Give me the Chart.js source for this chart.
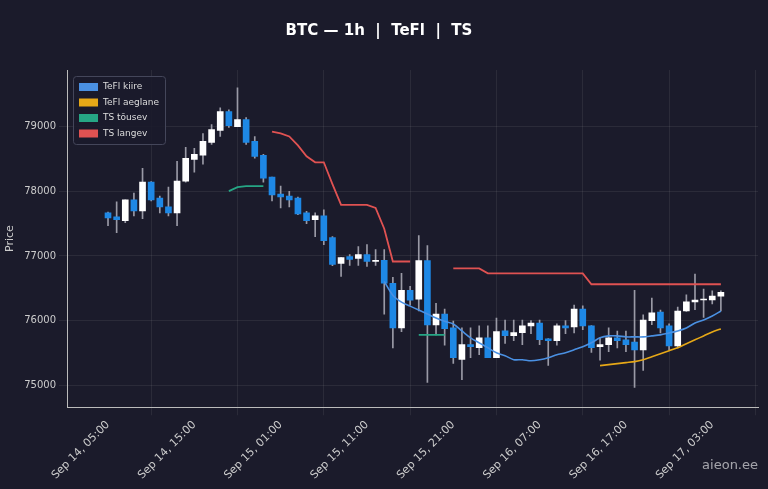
<!DOCTYPE html>
<html><head><meta charset="utf-8">
<script src="https://cdn.jsdelivr.net/npm/chart.js@4.4.1/dist/chart.umd.min.js"></script>
<style>html,body{margin:0;padding:0;background:#1b1b2b;}#wrap{width:768px;height:489px;position:relative;}</style>
</head><body><div id="wrap"><canvas id="c" width="768" height="489"></canvas></div>
<script>
const tickLabels = ["Sep 14, 05:00","Sep 14, 15:00","Sep 15, 01:00","Sep 15, 11:00","Sep 15, 21:00","Sep 16, 07:00","Sep 16, 17:00","Sep 17, 03:00"];
const opens  = [77667,77605,77544,77866,77697,78142,77896,77758,77667,78157,78494,78556,78755,78939,79230,79000,79107,78770,78556,78218,77957,77927,77896,77667,77560,77620,77283,76885,76992,76961,77023,76915,76931,76578,75890,76470,76332,76930,75935,76103,75890,75400,75630,75585,75735,75430,75845,75770,75815,75920,75965,75720,75690,75920,75905,76180,75920,75600,75630,75735,75705,75670,75550,76000,76135,75920,75610,76150,76290,76320,76320,76380];
const closes = [77590,77560,77866,77697,78142,77866,77758,77667,78157,78510,78571,78770,78954,79230,79015,79107,78755,78540,78203,77942,77912,77866,77651,77544,77620,77237,76870,76977,76946,77023,76915,76931,76578,75890,76470,76317,76930,75935,76103,75875,75430,75630,75600,75735,75430,75830,75770,75815,75920,75965,75705,75690,75920,75890,76180,75920,75585,75630,75735,75690,75630,75550,76010,76120,75890,75610,76150,76290,76320,76335,76380,76440];
const highs  = [77680,77835,77866,77973,78356,78150,77927,78065,78463,78678,78663,78893,79030,79291,79260,79598,79140,78847,78570,78220,78080,78000,77910,77690,77667,77713,77300,76980,77020,77145,77176,77100,77100,76670,76730,76530,77314,77160,76270,76180,75995,75890,75890,75920,75920,76040,76010,76010,76010,76000,76010,75725,75950,76000,76240,76230,75925,75735,75890,75840,75840,76470,76090,76350,76165,75950,76210,76400,76720,76490,76460,76460];
const lows   = [77470,77360,77513,77620,77575,77850,77667,77620,77467,78142,78295,78418,78724,78847,78985,79000,78724,78510,78142,77850,77743,77758,77640,77500,77300,77176,76850,76685,76854,76854,76838,76854,76100,75580,75830,76240,76150,75045,75780,75620,75340,75090,75430,75475,75430,75430,75650,75690,75630,75800,75630,75310,75620,75800,75810,75860,75510,75390,75520,75580,75520,74970,75230,75940,75810,75550,75580,76145,76170,76050,76260,76150];
const N = null;
const tefiKiire = [N,N,N,N,N,N,N,N,N,N,N,N,N,N,N,N,N,N,N,N,N,N,N,N,N,N,N,N,N,N,N,N,76608,76394,76287,76225,76164,76103,76041,75990,75950,75842,75735,75658,75581,75505,75459,75397,75397,75382,75397,75428,75474,75505,75551,75597,75658,75735,75765,75765,75750,75750,75750,75765,75781,75811,75842,75888,75965,76011,76072,76149];
const tefiAeglane = [N,N,N,N,N,N,N,N,N,N,N,N,N,N,N,N,N,N,N,N,N,N,N,N,N,N,N,N,N,N,N,N,N,N,N,N,N,N,N,N,N,N,N,N,N,N,N,N,N,N,N,N,N,N,N,N,N,75306,75321,75336,75352,75367,75397,75444,75490,75536,75582,75643,75704,75765,75827,75873];
const tsTousev = [N,N,N,N,N,N,N,N,N,N,N,N,N,N,78003,78065,78080,78080,78080,N,N,N,N,N,N,N,N,N,N,N,N,N,N,N,N,N,75780,75780,75780,75780,N,N,N,N,N,N,N,N,N,N,N,N,N,N,N,N,N,N,N,N,N,N,N,N,N,N,N,N,N,N,N,N];
const tsLangev = [N,N,N,N,N,N,N,N,N,N,N,N,N,N,N,N,N,N,N,78923,78893,78847,78709,78540,78448,78448,78111,77789,77789,77789,77789,77743,77421,76915,76915,76915,N,N,N,N,76808,76808,76808,76808,76731,76731,76731,76731,76731,76731,76731,76731,76731,76731,76731,76731,76563,76563,76563,76563,76563,76563,76563,76563,76563,76563,76563,76563,76563,76563,76563,76563];
const yTicks = [75000,76000,77000,78000,79000];

const idx = opens.map((_, i) => i);
const bodies = idx.map(i => ({x:i, y:[Math.min(opens[i],closes[i]), Math.max(opens[i],closes[i])+ (Math.abs(opens[i]-closes[i])<15?15:0)]}));
const bodyColors = idx.map(i => closes[i] >= opens[i] ? '#ffffff' : '#1e88e5');
const wicks = idx.map(i => ({x:i, y:[lows[i], highs[i]]}));
const line = arr => arr.map((v,i)=>({x:i,y:v}));

const legendItems = [['TeFl kiire','#4a90e2'],['TeFl aeglane','#e6a817'],['TS tõusev','#26a685'],['TS langev','#e05252']];

const bgPlugin = {id:'bg', beforeDraw(c){const ctx=c.ctx;ctx.save();ctx.fillStyle='#1b1b2b';ctx.fillRect(0,0,c.width,c.height);ctx.restore();},
 afterDraw(c){const ctx=c.ctx,a=c.chartArea;ctx.save();
  const x0=a.left+6,y0=a.top+6;ctx.fillStyle='rgba(27,27,43,0.9)';ctx.strokeStyle='#44465a';ctx.lineWidth=1;
  ctx.beginPath();ctx.roundRect(x0+0.5,y0+0.5,92,68,3);ctx.fill();ctx.stroke();
  ctx.font='9px "DejaVu Sans"';ctx.textBaseline='middle';
  legendItems.forEach((it,k)=>{const yy=y0+11+k*15.5;ctx.fillStyle=it[1];ctx.fillRect(x0+6,yy-4,19,8);ctx.fillStyle='#dddddd';ctx.fillText(it[0],x0+30,yy);});
  ctx.font='13px "DejaVu Sans"';ctx.fillStyle='rgba(255,255,255,0.6)';ctx.textAlign='right';ctx.fillText('aieon.ee',758,466);
  ctx.restore();}};

new Chart(document.getElementById('c'), {
  type:'bar',
  data:{datasets:[
    {type:'line',label:'TeFl kiire',data:line(tefiKiire),borderColor:'#4a90e2',borderWidth:1.6,pointRadius:0,tension:0.3,spanGaps:false},
    {type:'line',label:'TeFl aeglane',data:line(tefiAeglane),borderColor:'#e6a817',borderWidth:1.6,pointRadius:0,tension:0.3},
    {type:'line',label:'TS tõusev',data:line(tsTousev),borderColor:'#26a685',borderWidth:1.8,pointRadius:0},
    {type:'line',label:'TS langev',data:line(tsLangev),borderColor:'#e05252',borderWidth:1.8,pointRadius:0},
    {label:'wick',data:wicks,backgroundColor:'#9a9aa6',barThickness:1,grouped:false,order:10},
    {label:'body',data:bodies,backgroundColor:bodyColors,barThickness:6,grouped:false,order:5}
  ]},
  options:{responsive:false,animation:false,
    layout:{padding:{top:0,right:10,left:0,bottom:4}},
    plugins:{legend:{display:false},tooltip:{enabled:false},
      title:{display:true,text:'BTC — 1h  |  TeFl  |  TS',color:'#ffffff',font:{family:'DejaVu Sans',size:15,weight:'bold'},padding:{top:22,bottom:30}}},
    scales:{
      x:{type:'linear',min:-4.75,max:75.3,offset:false,
        grid:{color:'rgba(255,255,255,0.07)'},border:{color:'#bbbbbb'},
        afterBuildTicks(s){s.ticks=tickLabels.map((_,k)=>({value:k*10}));},
        ticks:{color:'#cccccc',font:{family:'DejaVu Sans',size:11},maxRotation:45,minRotation:45,autoSkip:false,callback:(v)=>tickLabels[Math.round(v/10)]}},
      y:{min:74662,max:79874,
        grid:{color:'rgba(255,255,255,0.07)'},border:{color:'#bbbbbb'},
        afterBuildTicks(s){s.ticks=yTicks.map(v=>({value:v}));},
        title:{display:true,text:'Price',color:'#cccccc',font:{family:'DejaVu Sans',size:11}},
        ticks:{color:'#cccccc',font:{family:'DejaVu Sans',size:10},callback:v=>String(v)}}
    }},
  plugins:[bgPlugin]
});
</script></body></html>
